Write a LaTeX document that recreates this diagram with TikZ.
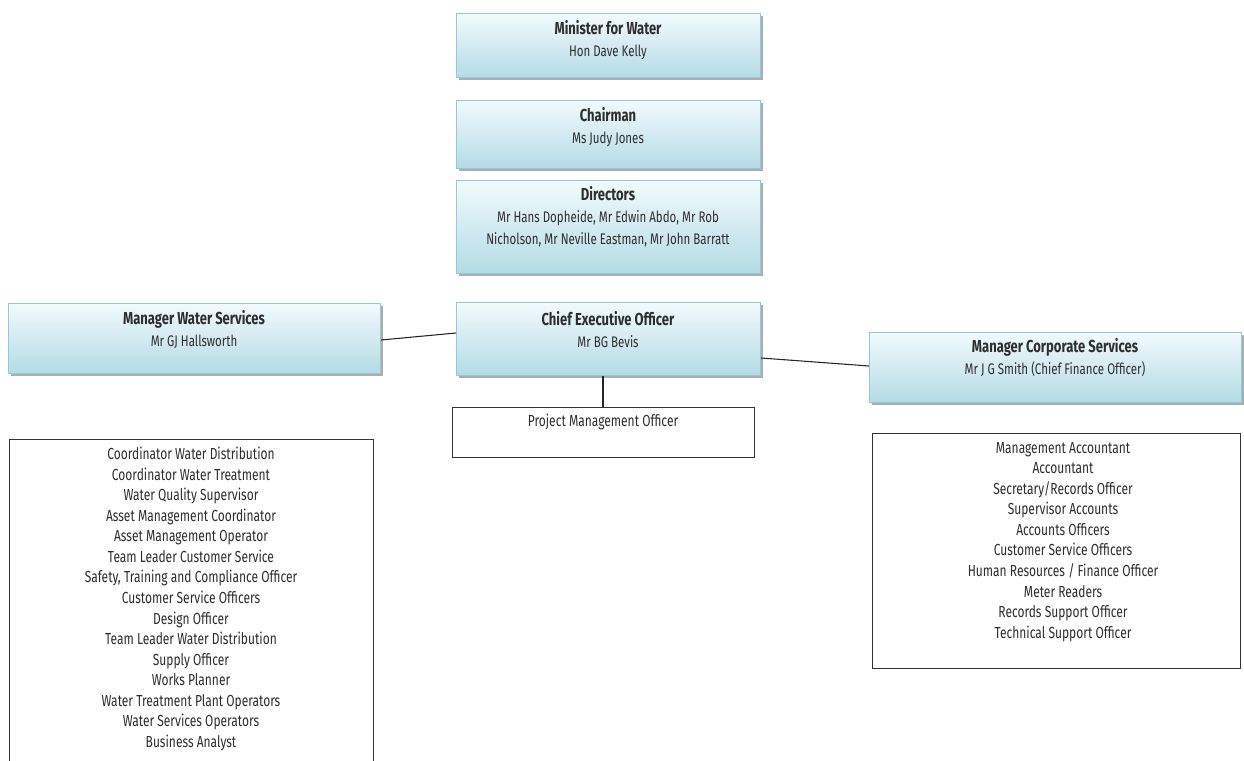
\documentclass[tikz,border=0pt]{standalone}
\usepackage{fontspec}
\setmainfont{Fira Sans}[FakeStretch=0.75]
\usetikzlibrary{shadows}
\definecolor{bordc}{HTML}{93CAD6}
\definecolor{topc}{HTML}{F2FAFC}
\definecolor{botc}{HTML}{B3DBE5}
\definecolor{txtc}{HTML}{2E2E2E}
\newcommand{\ttl}[1]{{\fontsize{13}{16.5}\selectfont\textbf{#1}}}
\tikzset{
  bluebox/.style={draw=bordc, line width=0.8pt, top color=topc, bottom color=botc,
    drop shadow={shadow xshift=2pt, shadow yshift=-2pt, fill=gray!80, opacity=0.8},
    anchor=north west, inner sep=0pt},
  whitebox/.style={draw=black!80, line width=0.8pt, fill=white, anchor=north west, inner sep=0pt},
  lbl/.style={anchor=north, align=center, text=txtc, font=\fontsize{11.5}{16.5}\selectfont, inner sep=0pt},
  lst/.style={anchor=north, align=center, text=txtc, font=\fontsize{12}{15.4}\selectfont, inner sep=0pt},
  link/.style={draw=black!85, line width=0.8pt}
}
\begin{document}
\begin{tikzpicture}[x=0.75pt,y=-0.75pt]
\useasboundingbox[fill=white] (0,0) rectangle (1244,760);
% boxes
\node[bluebox, minimum width=228pt, minimum height=48pt] (min) at (456,13) {};
\node[bluebox, minimum width=228pt, minimum height=51pt] (chair) at (456,100) {};
\node[bluebox, minimum width=228pt, minimum height=69.75pt] (dir) at (456,180) {};
\node[bluebox, minimum width=279pt, minimum height=52.5pt] (mws) at (8,303) {};
\node[bluebox, minimum width=228pt, minimum height=54.75pt] (ceo) at (456,302) {};
\node[bluebox, minimum width=279pt, minimum height=52.5pt] (mcs) at (869,332) {};
\node[whitebox, minimum width=226.5pt, minimum height=37.5pt] (pmo) at (452,407) {};
\node[whitebox, minimum width=273pt, minimum height=252pt] (lwl) at (9,439) {};
\node[whitebox, minimum width=276pt, minimum height=176.25pt] (rcl) at (872,433) {};
% texts
\node[lbl] (mint) at (608,20) {\ttl{Minister for Water}\\Hon Dave Kelly};
\node[lbl] (chairt) at (608,107) {\ttl{Chairman}\\Ms Judy Jones};
\node[lbl] (dirt) at (608,186) {\ttl{Directors}\\Mr Hans Dopheide, Mr Edwin Abdo, Mr Rob\\Nicholson, Mr Neville Eastman, Mr John Barratt};
\node[lbl] (mwst) at (194,310) {\ttl{Manager Water Services}\\Mr GJ Hallsworth};
\node[lbl] (ceot) at (608,311) {\ttl{Chief Executive Officer}\\Mr BG Bevis};
\node[lbl] (mcst) at (1055,338) {\ttl{Manager Corporate Services}\\Mr J G Smith (Chief Finance Officer)};
\node[lst] (pmot) at (603,414) {Project Management Officer};
\node[lst] (lwlt) at (191,447) {Coordinator Water Distribution\\Coordinator Water Treatment\\Water Quality Supervisor\\Asset Management Coordinator\\Asset Management Operator\\Team Leader Customer Service\\Safety, Training and Compliance Officer\\Customer Service Officers\\Design Officer\\Team Leader Water Distribution\\Supply Officer\\Works Planner\\Water Treatment Plant Operators\\Water Services Operators\\Business Analyst};
\node[lst] (rclt) at (1063,442) {Management Accountant\\Accountant\\Secretary/Records Officer\\Supervisor Accounts\\Accounts Officers\\Customer Service Officers\\Human Resources / Finance Officer\\Meter Readers\\Records Support Officer\\Technical Support Officer};
% connectors
\draw[link] (mws.east |- 0,340) coordinate (a1) -- (ceo.west |- 0,333) coordinate (a2);
\draw[link] (ceo.east |- 0,358) coordinate (b1) -- (mcs.west |- 0,366) coordinate (b2);
\draw[link] (ceo.south -| 603,0) coordinate (c1) -- (pmo.north -| 603,0) coordinate (c2);
\end{tikzpicture}
\end{document}
